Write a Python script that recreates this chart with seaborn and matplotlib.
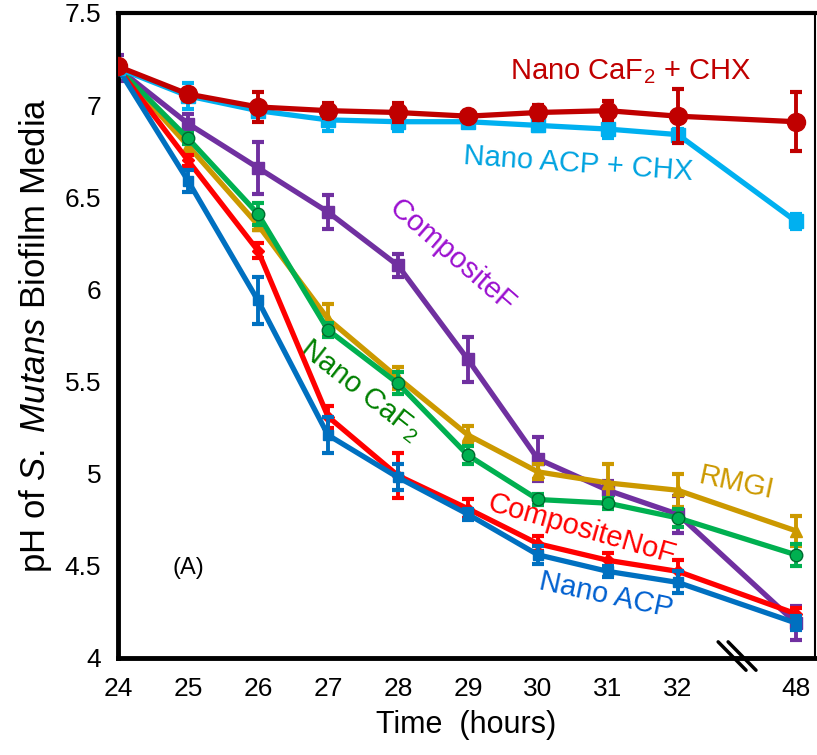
import numpy as np
import pandas as pd
import matplotlib
matplotlib.use("Agg")
import matplotlib.pyplot as plt
import seaborn as sns

# ---- data ----
hours = ["24", "25", "26", "27", "28", "29", "30", "31", "32", "48"]

nano_caf2_chx = [7.21, 7.06, 6.99, 6.97, 6.96, 6.94, 6.96, 6.97, 6.94, 6.91]
nano_caf2_chx_err = [0.02, 0.03, 0.08, 0.04, 0.05, 0.03, 0.04, 0.05, 0.145, 0.16]

nano_acp_chx = [7.20, 7.05, 6.97, 6.92, 6.91, 6.91, 6.89, 6.87, 6.84, 6.37]
nano_acp_chx_err = [0.03, 0.07, 0.03, 0.06, 0.05, 0.02, 0.03, 0.05, 0.03, 0.04]

composite_f = [7.20, 6.90, 6.66, 6.42, 6.13, 5.62, 5.08, 4.91, 4.78, 4.19]
composite_f_err = [0.07, 0.05, 0.14, 0.09, 0.06, 0.12, 0.12, 0.05, 0.10, 0.09]

rmgi = [7.20, 6.78, 6.35, 5.84, 5.52, 5.21, 5.01, 4.95, 4.91, 4.69]
rmgi_err = [0.02, 0.05, 0.03, 0.08, 0.06, 0.05, 0.04, 0.10, 0.09, 0.08]

nano_caf2 = [7.20, 6.82, 6.41, 5.78, 5.49, 5.10, 4.86, 4.84, 4.76, 4.56]
nano_caf2_err = [0.02, 0.03, 0.06, 0.04, 0.06, 0.05, 0.03, 0.03, 0.05, 0.06]

composite_nof = [7.20, 6.70, 6.21, 5.31, 4.99, 4.81, 4.62, 4.53, 4.47, 4.24]
composite_nof_err = [0.02, 0.03, 0.04, 0.06, 0.12, 0.05, 0.04, 0.04, 0.06, 0.03]

nano_acp = [7.20, 6.59, 5.94, 5.21, 4.98, 4.78, 4.56, 4.47, 4.41, 4.19]
nano_acp_err = [0.02, 0.06, 0.13, 0.10, 0.07, 0.03, 0.05, 0.03, 0.06, 0.04]

# ---- style ----
sns.set_theme(style="white")
plt.rcParams["font.family"] = ["Liberation Sans", "DejaVu Sans"]
plt.rcParams["mathtext.fontset"] = "custom"
plt.rcParams["mathtext.rm"] = "Liberation Sans"
plt.rcParams["mathtext.it"] = "Liberation Sans:italic"
plt.rcParams["axes.labelcolor"] = "black"
plt.rcParams["text.color"] = "black"

fig = plt.figure(figsize=(8.17, 7.55), dpi=100)
ax = fig.add_axes([0.1444, 0.1285, 0.8532, 0.8543])

# broken axis: 48 h placed a bit further than one step after 32 h
pos = list(range(9)) + [9.686]

series = [
    ("CompositeF", composite_f, composite_f_err, "#7030A0", "s", 8, "#7030A0"),
    ("RMGI", rmgi, rmgi_err, "#CC9900", "^", 8, "#CC9900"),
    ("Nano CaF2", nano_caf2, nano_caf2_err, "#00B050", "o", 9, "#006B30"),
    ("CompositeNoF", composite_nof, composite_nof_err, "#FF0000", "D", 6, "#FF0000"),
    ("Nano ACP", nano_acp, nano_acp_err, "#0070C0", "s", 7, "#0070C0"),
    ("Nano ACP + CHX", nano_acp_chx, nano_acp_chx_err, "#00B0F0", "s", 10, "#00B0F0"),
    ("Nano CaF2 + CHX", nano_caf2_chx, nano_caf2_chx_err, "#C00000", "o", 13, "#C00000"),
]

for i, (name, vals, errs, col, mk, ms, ec) in enumerate(series):
    df = pd.DataFrame({"pos": pos, "pH": vals})
    ax.errorbar(pos, vals, yerr=errs, fmt="none", ecolor=col, elinewidth=2.8,
                capsize=4, capthick=3, zorder=2 + i)
    sns.lineplot(data=df, x="pos", y="pH", ax=ax, color=col, lw=3.8,
                 marker=mk, markersize=ms, markeredgecolor=ec,
                 markeredgewidth=1, zorder=2.5 + i, legend=False)

ax.set_xlim(0, 9.96)
ax.set_ylim(4, 7.5)
ax.set_xticks(pos)
ax.set_xticklabels(hours)
ax.set_yticks([4, 4.5, 5, 5.5, 6, 6.5, 7, 7.5])
ax.set_yticklabels(["4", "4.5", "5", "5.5", "6", "6.5", "7", "7.5"])

tick_font = ["Liberation Sans Narrow", "Liberation Sans", "DejaVu Sans"]
for lab in ax.get_xticklabels() + ax.get_yticklabels():
    lab.set_family(tick_font)
    lab.set_fontsize(19)
    lab.set_color("black")

ax.tick_params(axis="both", direction="in", length=9, width=2.4, color="black")
ax.tick_params(axis="x", pad=14)
ax.tick_params(axis="y", pad=12)

for side, lw in [("left", 3.5), ("bottom", 3.5), ("top", 3), ("right", 1.5)]:
    ax.spines[side].set_visible(True)
    ax.spines[side].set_color("black")
    ax.spines[side].set_linewidth(lw)

ax.set_xlabel("Time  (hours)", fontsize=22, family=tick_font, labelpad=6,
              color="black")
ax.set_ylabel(r"pH of $\mathit{S.\ Mutans}$ Biofilm Media", fontsize=25,
              labelpad=8, color="black")

# axis break marks
for dx in (0.0, 0.0143):
    ax.plot([0.861 + dx, 0.901 + dx], [0.025, -0.019], transform=ax.transAxes,
            color="black", lw=2.5, clip_on=False, zorder=20)

# series labels
fs = 21
ax.text(7.33, 7.18, r"Nano CaF$_2$ + CHX", color="#C00000", fontsize=fs,
        ha="center", va="center")
ax.text(6.57, 6.68, "Nano ACP + CHX", color="#00A3E0", fontsize=fs,
        ha="center", va="center", rotation=-4, rotation_mode="anchor")
ax.text(4.77, 6.18, "CompositeF", color="#9B10D0", fontsize=fs,
        ha="center", va="center", rotation=-41, rotation_mode="anchor")
ax.text(3.46, 5.45, r"Nano CaF$_2$", color="#008000", fontsize=fs,
        ha="center", va="center", rotation=-38, rotation_mode="anchor")
ax.text(8.84, 4.95, "RMGI", color="#CC9900", fontsize=fs,
        ha="center", va="center", rotation=-12, rotation_mode="anchor")
ax.text(6.63, 4.70, "CompositeNoF", color="#FF0000", fontsize=fs,
        ha="center", va="center", rotation=-16, rotation_mode="anchor")
ax.text(6.97, 4.34, "Nano ACP", color="#0060D0", fontsize=fs,
        ha="center", va="center", rotation=-12, rotation_mode="anchor")
ax.text(1.0, 4.49, "(A)", color="black", fontsize=17, ha="center", va="center")

fig.savefig("out.png", dpi=100)
